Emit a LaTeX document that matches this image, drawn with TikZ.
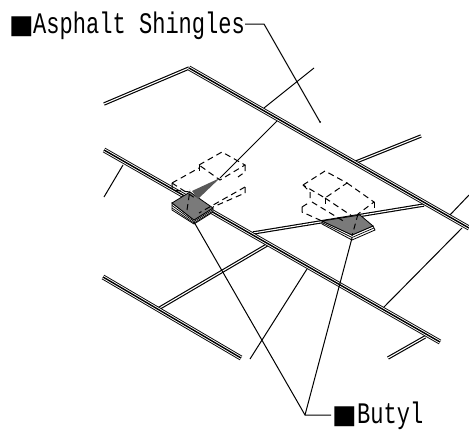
\documentclass[tikz,border=0pt]{standalone}
\usepackage{fontspec}
\newfontfamily\lblfont[FakeStretch=0.74]{Liberation Mono}
\newfontfamily\sqfont{DejaVu Sans}
\tikzset{
 thinline/.style={line width=1pt,black},
 plate/.style={line width=1pt,black,dash pattern=on 6pt off 4pt},
 lbl/.style={inner sep=0pt,anchor=base west,font=\fontsize{29.8}{29.8}\selectfont\lblfont},
 sq/.style={inner sep=0pt,anchor=base west,font=\fontsize{26}{26}\selectfont\sqfont},
 butylface/.style={fill=black!52,draw=black,line width=0.8pt},
 butylside/.style={fill=white,draw=black,line width=0.8pt}
}
\newcommand{\bandlines}[1]{%
 \draw[black,line width=5pt] #1;
 \draw[white,line width=3.2pt] #1;
 \draw[black,line width=1.4pt] #1;
}
\newcommand{\twinlines}[1]{%
 \draw[black,line width=3.4pt] #1;
 \draw[white,line width=1.1pt] #1;
}
\begin{document}
\begin{tikzpicture}[x=1pt,y=-1pt]
\useasboundingbox (0,0) rectangle (469,431);
% thin lines
\draw[thinline] (264,108) -- (314,68);
\draw[thinline] (277,121) -- (220,178);
\draw[thinline] (123,165) -- (104,197);
\draw[thinline] (307,269) -- (250,359);
\draw[thinline] (383,308) -- (462,228);
\draw[thinline] (449,216) -- (469,195);
% twin branches
\twinlines{(104,104) -- (189,68)}
\twinlines{(356,162) -- (421,136)}
\twinlines{(253,233) -- (424,205)}
\twinlines{(158,309) -- (267,245)}
\twinlines{(388,358) -- (425,337)}
% main bands
\bandlines{(189,68) -- (469,228)}
\bandlines{(104,150) -- (440,342)}
\bandlines{(103,277) -- (241,358)}
% left butyl
\draw[butylside] (172,203) -- (172,210) -- (194,224) -- (213,212) -- (213,208) -- (194,220) -- cycle;
\draw[line width=0.7pt] (172,205.5) -- (194,221.5) -- (213,209.5);
\draw[line width=0.7pt] (172,208) -- (194,223) -- (213,211);
\draw[butylface] (172,203) -- (190,192) -- (213,208) -- (194,220) -- cycle;
\fill[black!65] (192,191) -- (220,178) -- (198,199) -- cycle;
% left dashed plates
\draw[plate] (199,165) -- (222,152) -- (245,165) -- (220,180) -- cycle;
\draw[plate] (245,165) -- (245,172) -- (238,177);
\draw[plate] (199,165) -- (199,172);
\draw[plate] (172,183) -- (199,168);
\draw[plate] (172,183) -- (172,190) -- (190,192);
\draw[plate] (245,187) -- (199,213);
\draw[plate] (245,187) -- (245,193) -- (213,207);
\draw[plate] (172,183) -- (195,198);
\draw[plate] (187,210) -- (190,190);
% right butyl
\draw[butylside] (322,221) -- (322,224) -- (352,240) -- (375,230) -- (373,226) -- (352,235) -- cycle;
\draw[line width=0.7pt] (322,222.5) -- (352,237.5) -- (374,228);
\draw[butylface] (322,221) -- (360,215) -- (373,226) -- (352,235) -- cycle;
% right dashed plates
\draw[plate] (303,185) -- (325,171) -- (347,183) -- (325,198) -- cycle;
\draw[plate] (303,185) -- (310,192) -- (310,200);
\draw[plate] (347,183) -- (374,202) -- (358,214);
\draw[plate] (325,198) -- (352,216);
\draw[plate] (302,207) -- (310,202);
\draw[plate] (302,207) -- (302,212) -- (322,221);
\draw[plate] (312,202) -- (345,222);
\draw[plate] (325,198) -- (325,206);
\draw[plate] (358,214) -- (352,236);
\draw[plate] (374,202) -- (374,210);
% leaders
\node[sq] (sqa) at (9,33) {■};
\node[lbl] (asphalt) at (33,33) {Asphalt Shingles};
\coordinate (aelbow) at (264,24);
\coordinate (aend) at (320,122);
\draw[thinline] (245,24) -- (aelbow) -- (aend);
\fill (aend) circle (1pt);
\node[sq] (sqb) at (332,423) {■};
\node[lbl] (butyl) at (357,423) {Butyl};
\coordinate (belbow) at (305,415);
\coordinate (bone) at (194,222);
\coordinate (btwo) at (352,238);
\draw[thinline] (331,415) -- (belbow) -- (bone);
\draw[thinline] (belbow) -- (btwo);
\end{tikzpicture}
\end{document}
